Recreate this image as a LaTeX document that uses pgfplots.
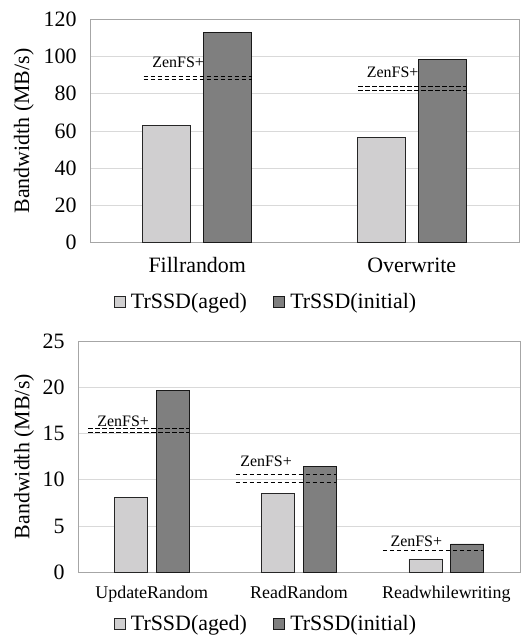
\documentclass[border=0pt]{standalone}
\usepackage{pgfplots}
\pgfplotsset{compat=1.18}
\usepackage{fontspec}
\setmainfont{Liberation Serif}
\definecolor{aged}{HTML}{D0CFD0}
\definecolor{init}{HTML}{7F7F7F}
\definecolor{gridc}{HTML}{D9D9D9}
\definecolor{framec}{HTML}{A6A6A6}
\tikzset{zlab/.style={anchor=west, inner sep=0pt, font=\fontsize{16}{19}\selectfont}}
\pgfplotsset{
  mybars/.style={
    scale only axis,
    anchor=south west,
    /pgf/number format/assume math mode=true,
    axis line style={framec, line width=0.8bp},
    ymajorgrids, grid style={gridc, line width=0.8bp},
    major tick length=0pt,
    tick style={draw=none},
    xtick=data,
    xmin=-0.5,
    ymin=0,
    yticklabel style={font=\fontsize{22}{26}\selectfont, xshift=-10bp},
    every axis y label/.style={rotate=90, anchor=center, font=\fontsize{22}{26}\selectfont},
    legend columns=2,
    legend cell align=left,
    legend style={draw=none, fill=none, anchor=center, font=\fontsize{22}{26}\selectfont,
      /tikz/every even column/.append style={column sep=24bp}, inner sep=0pt},
    legend image code/.code={\draw[#1, line width=0.6bp] (0bp,-5.5bp) rectangle (11bp,5.5bp);
      \path[draw=none, fill=none] (0bp,0bp) rectangle (15bp,0.1bp);},
  },
  agedbar/.style={ybar, bar width=0.224, bar shift=-0.142, fill=aged, draw=black!85, line width=0.8bp},
  initbar/.style={ybar, bar width=0.224, bar shift=0.142, fill=init, draw=black!90, line width=0.8bp},
  zline/.style={black, line width=1bp, dash pattern=on 4.5bp off 2.5bp, forget plot},
}
\begin{document}
\begin{tikzpicture}
\useasboundingbox (0,0) rectangle (528bp,636bp);
% ---- top chart ----
\begin{axis}[mybars,
  at={(90bp,393.3bp)}, width=429bp, height=223.4bp,
  xmax=1.5, ymax=120, ytick={0,20,...,120},
  xticklabels={Fillrandom,Overwrite},
  xticklabel style={font=\fontsize{22}{26}\selectfont, anchor=center, yshift=-27bp, text height=1.5ex, text depth=0.2ex},
  ylabel={Bandwidth (MB/s)},
  every axis y label/.append style={at={(axis description cs:-0.154,0.5)}},
  legend style={at={(axis description cs:0.41,-0.265)}},
]
\addplot[agedbar] coordinates {(0,62.8) (1,56.6)};
\addlegendentry{TrSSD(aged)}
\addplot[initbar] coordinates {(0,113.0) (1,98.5)};
\addlegendentry{TrSSD(initial)}
\addplot[zline] coordinates {(-0.25,89.3) (0.254,89.3)};
\addplot[zline] coordinates {(-0.25,87.4) (0.254,87.4)};
\addplot[zline] coordinates {(0.75,83.8) (1.254,83.8)};
\addplot[zline] coordinates {(0.75,82.0) (1.254,82.0)};
\node[zlab] at (axis cs:-0.21,97) {ZenFS+};
\node[zlab] at (axis cs:0.79,91.4) {ZenFS+};
\end{axis}
% ---- bottom chart ----
\begin{axis}[mybars,
  at={(78bp,63.7bp)}, width=442bp, height=231.3bp,
  xmax=2.5, ymax=25, ytick={0,5,...,25},
  xticklabels={UpdateRandom,ReadRandom,Readwhilewriting},
  xticklabel style={font=\fontsize{18}{22}\selectfont, anchor=center, yshift=-23bp, text height=1.5ex, text depth=0.2ex},
  ylabel={Bandwidth (MB/s)},
  every axis y label/.append style={at={(axis description cs:-0.122,0.5)}},
  legend style={at={(axis description cs:0.425,-0.224)}},
]
\addplot[agedbar] coordinates {(0,8.1) (1,8.5) (2,1.4)};
\addlegendentry{TrSSD(aged)}
\addplot[initbar] coordinates {(0,19.7) (1,11.46) (2,3.06)};
\addlegendentry{TrSSD(initial)}
\addplot[zline] coordinates {(-0.43,15.5) (0.254,15.5)};
\addplot[zline] coordinates {(-0.43,15.1) (0.254,15.1)};
\addplot[zline] coordinates {(0.57,10.55) (1.254,10.55)};
\addplot[zline] coordinates {(0.57,9.73) (1.254,9.73)};
\addplot[zline] coordinates {(1.57,2.41) (2.254,2.41)};
\node[zlab] at (axis cs:-0.37,16.35) {ZenFS+};
\node[zlab] at (axis cs:0.60,12.03) {ZenFS+};
\node[zlab] at (axis cs:1.62,3.4) {ZenFS+};
\end{axis}
\end{tikzpicture}
\end{document}
